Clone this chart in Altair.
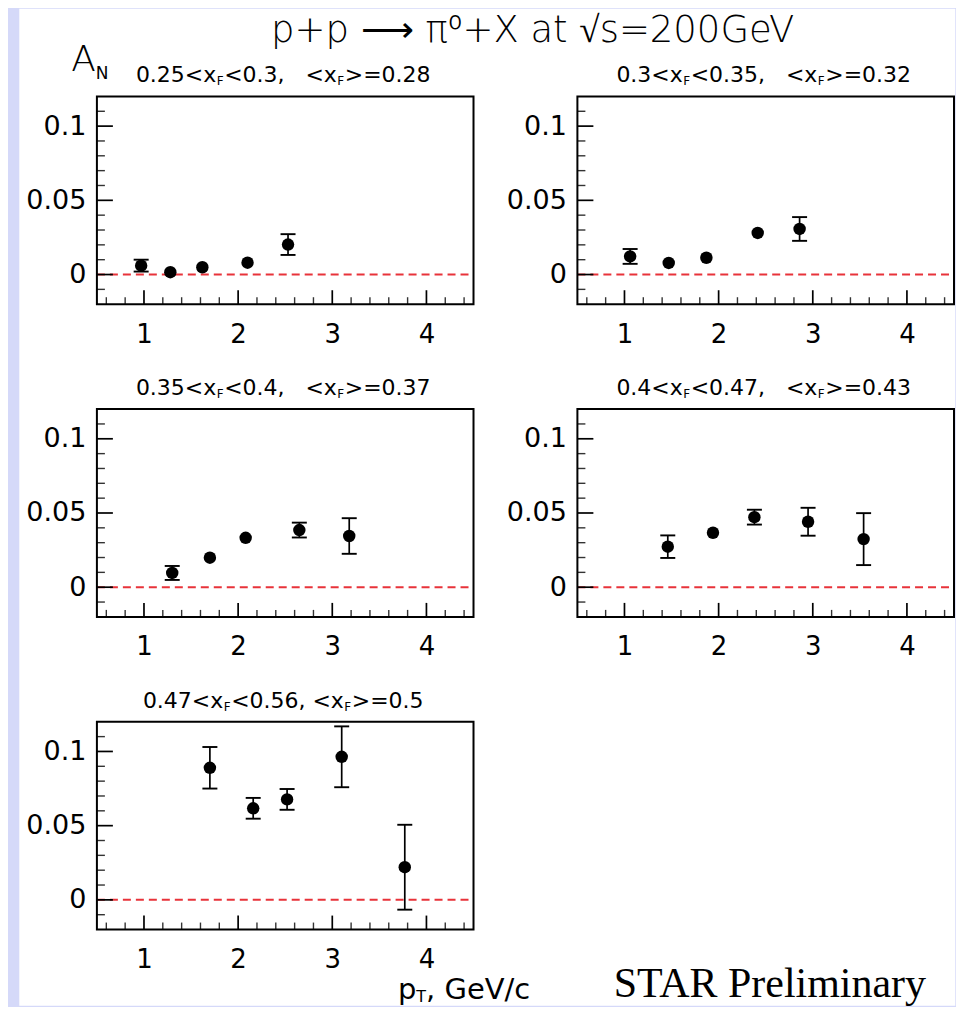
import altair as alt
import pandas as pd

# ---------------- data ----------------
pt_1 = [0.97, 1.28, 1.62, 2.10, 2.53]
an_1 = [0.006, 0.0016, 0.0049, 0.008, 0.0202]
er_1 = [0.004, 0.002, 0.002, 0.002, 0.007]

pt_2 = [1.06, 1.47, 1.87, 2.415, 2.86]
an_2 = [0.0122, 0.0078, 0.0113, 0.028, 0.0307]
er_2 = [0.005, 0.002, 0.002, 0.002, 0.008]

pt_3 = [1.30, 1.70, 2.08, 2.65, 3.18]
an_3 = [0.0096, 0.0199, 0.0333, 0.0385, 0.0345]
er_3 = [0.0047, 0.002, 0.002, 0.005, 0.012]

pt_4 = [1.46, 1.94, 2.38, 2.95, 3.54]
an_4 = [0.0273, 0.0367, 0.0472, 0.0441, 0.0324]
er_4 = [0.0076, 0.002, 0.005, 0.0094, 0.0175]

pt_5 = [1.70, 2.16, 2.52, 3.10, 3.77]
an_5 = [0.089, 0.0617, 0.0677, 0.0964, 0.022]
er_5 = [0.014, 0.007, 0.007, 0.0205, 0.0286]

xf_bins = [("0.25", "0.3", "0.28"), ("0.3", "0.35", "0.32"), ("0.35", "0.4", "0.37"),
           ("0.4", "0.47", "0.43"), ("0.47", "0.56", "0.5")]

x_labels = [1, 2, 3, 4]
x_minor = [0.6, 0.8, 1.2, 1.4, 1.6, 1.8, 2.2, 2.4, 2.6, 2.8, 3.2, 3.4, 3.6, 3.8, 4.2, 4.4]
y_labels = [0, 0.05, 0.1]
y_minor = [-0.01, 0.01, 0.02, 0.03, 0.04, 0.06, 0.07, 0.08, 0.09, 0.11]
x_domain = [0.5, 4.5]
y_domain = [-0.02, 0.12]

main_title = "p+p \u27f6 \u03c0\u2070+X at \u221as=200GeV"

# ---------------- layout / style ----------------
W, H = 377, 208
GAP_COL, GAP_ROW = 104, 105
FONT = "DejaVu Sans"
RED = "#e8333a"
LAVENDER = "#d5d9f9"

# DejaVu Sans advance widths (units per 2048 em)
ADV = {c: 1303 for c in "0123456789"}
ADV.update({".": 651, ",": 651, " ": 651, "<": 1716, ">": 1716, "=": 1716,
            "x": 1212, "F": 1178, "p": 1300, "T": 1251, "A": 1401, "N": 1532})


def text_width(s, fs):
    return sum(ADV.get(c, 1200) for c in s) / 2048.0 * fs


one = pd.DataFrame({"k": [0]})


def txt(s, px, py, fs, font=FONT, align="left", weight="normal"):
    return alt.Chart(one).mark_text(text=s, font=font, fontSize=fs, align=align,
                                    fontWeight=weight, baseline="alphabetic",
                                    color="black").encode(
        x=alt.value(px), y=alt.value(py))


def piece_row(parts, x0, y0):
    out = []
    x = x0
    for s, fs, dy, gap in parts:
        out.append(txt(s, x, y0 + dy, fs))
        x += text_width(s, fs) + gap
    return out


def panel_title(lo, hi, mean, nsp):
    big, small = 22, 12
    sp = text_width(" ", big)
    parts = [(f"{lo}<x", big, 0, 0.5), ("F", small, 3, 0.5), (f"<{hi},", big, 0, nsp * sp),
             ("<x", big, 0, 0.5), ("F", small, 3, 0.5), (f">={mean}", big, 0, 0)]
    total = sum(text_width(s, fs) + g for s, fs, _, g in parts)
    return piece_row(parts, W / 2 - 2 - total / 2, -14)


xs = alt.Scale(domain=x_domain, nice=False, zero=False)
ys = alt.Scale(domain=y_domain, nice=False, zero=False)
xaxis = alt.Axis(values=x_labels, format="d", labelFont=FONT, labelFontSize=26,
                 labelColor="black", ticks=False, tickSize=0, domain=False, grid=False,
                 labelPadding=17, zindex=1)
yaxis = alt.Axis(values=y_labels, format="~g", labelFont=FONT, labelFontSize=27,
                 labelColor="black", ticks=False, tickSize=0, domain=False, grid=False,
                 labelPadding=11, zindex=1)


def X(f):
    return alt.X(f, type="quantitative", scale=xs, axis=xaxis, title=None)


def Y(f):
    return alt.Y(f, type="quantitative", scale=ys, axis=yaxis, title=None)


def panel(idx, pt, an, er, extra_front=None, extra_back=None):
    df = pd.DataFrame({"pt": pt, "an": an, "err": er})
    df["lo"] = df["an"] - df["err"]
    df["hi"] = df["an"] + df["err"]
    base = alt.Chart(df)
    layers = list(extra_back or [])
    layers.append(alt.Chart(pd.DataFrame({"z": [0.0]})).mark_rule(
        color=RED, strokeDash=[8, 5], strokeWidth=2).encode(
        y=Y("z"), x=alt.value(0), x2=alt.value(W)))
    layers.append(alt.Chart(pd.DataFrame({"t": y_minor})).mark_rule(
        color="#333333", strokeWidth=1.4).encode(y=Y("t"), x=alt.value(0), x2=alt.value(8)))
    layers.append(alt.Chart(pd.DataFrame({"t": y_labels})).mark_rule(
        color="black", strokeWidth=1.7).encode(y=Y("t"), x=alt.value(0), x2=alt.value(16)))
    layers.append(alt.Chart(pd.DataFrame({"t": x_minor})).mark_rule(
        color="#333333", strokeWidth=1.4).encode(x=X("t"), y=alt.value(H), y2=alt.value(H - 7)))
    layers.append(alt.Chart(pd.DataFrame({"t": x_labels})).mark_rule(
        color="black", strokeWidth=1.7).encode(x=X("t"), y=alt.value(H), y2=alt.value(H - 14)))
    layers.append(base.mark_rule(color="black", strokeWidth=1.7).encode(
        x=X("pt"), y=Y("lo"), y2="hi"))
    caps = base.transform_filter("datum.err >= 0.003")
    for f in ("lo", "hi"):
        layers.append(caps.mark_rule(color="black", strokeWidth=1.9,
                                     xOffset=-7.5, x2Offset=7.5).encode(
            x=X("pt"), x2="pt", y=Y(f)))
    layers.append(base.mark_circle(size=155, color="black", opacity=1).encode(
        x=X("pt"), y=Y("an")))
    layers.append(alt.Chart(one).mark_rect(fillOpacity=0, stroke="black", strokeWidth=2).encode(
        x=alt.value(0), x2=alt.value(W), y=alt.value(0), y2=alt.value(H)))
    lo, hi, mean = xf_bins[idx]
    nsp = 1 if idx == 4 else 3
    layers += panel_title(lo, hi, mean, nsp)
    layers += list(extra_front or [])
    return alt.layer(*layers).properties(width=W, height=H)


# P1 carries the white sheet, the main title and A_N
P1_X, P1_Y = 96.7, 95.7   # page position of panel 1 plot area
sheet = alt.Chart(one).mark_rect(color="white").encode(
    x=alt.value(19 - P1_X), x2=alt.value(956 - P1_X),
    y=alt.value(8 - P1_Y), y2=alt.value(1006 - P1_Y))
p1_front = [txt(main_title, 271 - P1_X, 41 - P1_Y, 37, weight=300),
            txt("A", 71 - P1_X, 70 - P1_Y, 36, weight=300),
            txt("N", 71 - P1_X + text_width("A", 36), 78 - P1_Y, 17)]

P5_X, P5_Y = 96.7, P1_Y + 2 * (H + GAP_ROW)
px0 = 398 - P5_X
p5_front = [txt("p", px0, 999 - P5_Y, 29),
            txt("T", px0 + text_width("p", 29), 1002.5 - P5_Y, 16),
            txt(", GeV/c", px0 + text_width("p", 29) + text_width("T", 16), 999 - P5_Y, 29),
            txt("STAR Preliminary", 614 - P5_X, 997 - P5_Y, 42, font="Liberation Serif")]

p1 = panel(0, pt_1, an_1, er_1, extra_front=p1_front, extra_back=[sheet])
p2 = panel(1, pt_2, an_2, er_2)
p3 = panel(2, pt_3, an_3, er_3)
p4 = panel(3, pt_4, an_4, er_4)
p5 = panel(4, pt_5, an_5, er_5, extra_front=p5_front)

chart = alt.concat(p1, p2, p3, p4, p5, columns=2,
                   spacing={"row": GAP_ROW, "column": GAP_COL}, bounds="flush").properties(
    padding={"left": 11, "top": 0, "right": 0, "bottom": 0},
    background=LAVENDER,
).configure_view(stroke=None)

chart.save("out.html", embed_options={"renderer": "svg", "actions": False})
